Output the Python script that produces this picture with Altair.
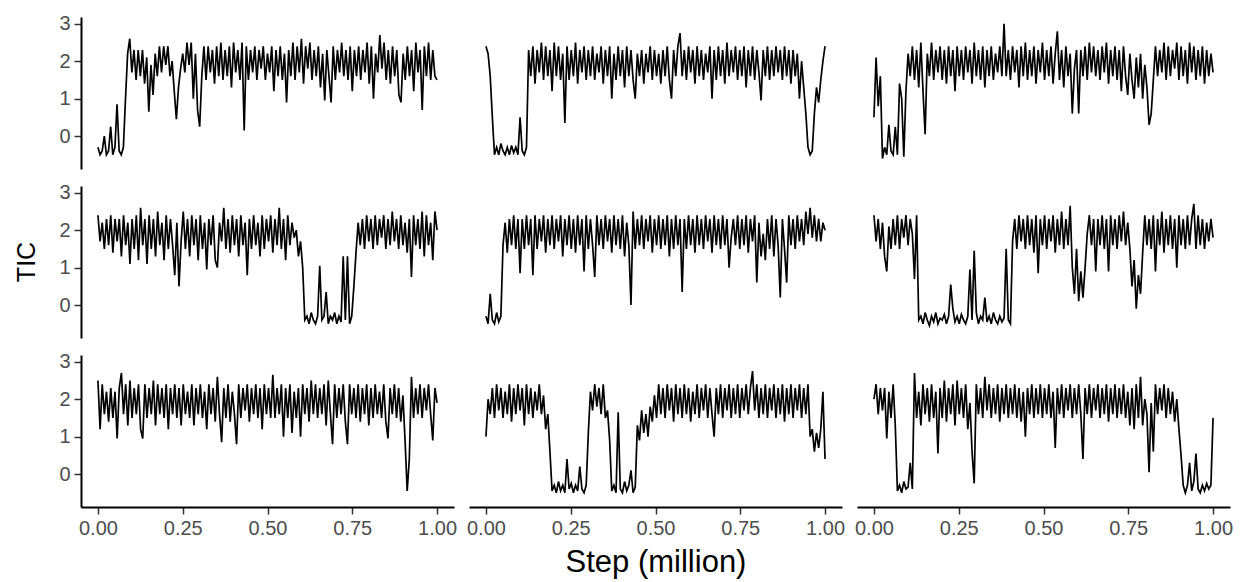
import altair as alt
import numpy as np
import pandas as pd

# TIC values (row, column), evenly spaced steps 0..1 million
p11 = [-0.3,-0.5,-0.4,-0.0,-0.5,-0.4,0.25,-0.5,-0.3,0.85,-0.4,-0.5,-0.3,1.0,2.2,
       2.6,1.7,2.3,1.5,2.3,1.6,2.3,1.4,2.1,0.65,
       1.9,1.1,2.2,1.6,2.4,1.7,2.4,1.9,2.4,1.6,2.0,
       1.2,0.45,1.3,1.8,2.2,
       1.7,2.5,1.9,2.5,1.0,2.2,0.7,0.25,
       1.6,2.4,1.5,2.4,1.7,2.3,1.4,2.4,1.6,2.5,1.5,2.3,1.6,2.4,1.3,2.5,1.7,2.3,1.5,
       2.5,0.15,2.4,
       1.5,2.3,1.7,2.4,1.5,2.3,1.8,2.4,1.5,2.2,1.7,2.4,1.2,2.3,1.6,2.4,1.5,2.2,0.9,2.3,
       1.6,2.5,1.5,2.4,1.7,2.6,1.4,2.4,1.8,2.5,1.5,2.3,1.6,2.4,1.3,2.2,
       0.95,2.3,1.6,0.9,2.4,1.5,2.3,1.7,2.5,1.6,
       2.3,1.5,2.4,1.2,2.3,1.6,2.4,1.5,2.3,1.7,2.5,1.4,2.4,1.0,2.2,1.7,
       2.7,1.8,2.5,1.5,2.3,1.4,2.4,1.6,2.3,
       1.1,0.9,2.2,1.5,2.4,1.6,2.3,1.2,2.5,1.7,2.3,0.7,2.4,1.6,2.5,1.5,2.3,1.6,1.5]

p12 = [2.4,2.2,1.6,0.5,
       -0.5,-0.3,-0.5,-0.2,-0.4,-0.5,-0.3,-0.5,-0.25,-0.45,-0.3,-0.5,0.5,-0.4,-0.5,-0.3,
       2.3,
       1.6,2.4,1.4,2.3,1.7,2.5,1.5,2.4,1.6,2.3,1.2,2.5,1.6,2.4,1.5,2.2,
       0.35,
       2.4,1.5,2.3,1.6,2.5,1.4,2.3,1.7,2.4,1.5,2.3,1.6,2.4,1.5,2.2,1.7,2.4,1.4,2.3,1.6,2.4,
       1.0,
       2.2,1.5,2.4,1.6,2.3,1.3,2.4,1.6,2.3,1.5,
       1.0,
       2.2,1.6,2.3,1.4,2.2,1.7,2.4,1.5,2.3,1.6,2.2,1.4,2.3,1.6,2.4,1.5,
       1.0,2.3,1.6,2.4,2.75,
       1.6,2.3,1.5,2.4,1.7,2.3,1.4,2.4,1.6,2.3,1.5,2.2,1.7,2.4,
       1.0,
       2.3,1.5,2.4,1.6,2.3,1.4,2.5,1.6,2.3,1.7,2.4,1.5,2.3,1.6,2.4,1.3,2.3,1.6,2.4,1.5,2.3,1.7,
       0.95,
       2.3,1.6,2.4,1.5,2.3,1.6,2.4,1.7,2.3,1.5,2.4,1.6,2.3,1.4,2.3,1.6,2.2,1.0,
       2.0,1.3,0.6,-0.3,-0.5,-0.4,0.6,1.3,0.9,1.5,2.0,2.4]

p13 = [0.5,2.1,0.8,1.6,
       -0.6,-0.3,-0.5,0.3,-0.4,-0.5,0.25,
       -0.5,1.4,1.0,-0.55,1.2,2.2,
       1.6,2.4,1.5,2.3,1.3,2.5,1.2,0.05,
       2.2,1.6,2.5,1.5,2.3,1.7,2.4,1.5,2.3,1.4,2.4,1.6,2.3,1.2,2.4,1.6,2.3,1.5,2.4,1.7,
       2.3,1.4,2.5,1.6,2.3,1.5,2.4,1.3,2.3,1.6,2.4,1.5,2.2,1.7,2.4,1.6,
       3.0,
       1.6,2.3,1.5,2.4,1.7,2.3,1.3,2.4,1.6,2.5,1.5,2.3,1.6,2.4,1.4,2.3,1.7,2.5,1.5,2.3,1.6,2.4,1.4,2.2,
       2.8,1.5,2.3,1.3,2.4,1.6,2.2,
       0.6,1.8,2.3,0.6,
       2.3,1.6,2.4,1.5,2.5,1.7,2.4,1.6,2.3,1.5,2.4,1.7,2.5,1.4,2.3,1.6,2.4,1.5,2.3,1.2,2.4,1.6,1.1,2.2,1.5,
       1.0,2.1,1.3,2.2,1.0,1.9,1.3,
       0.3,0.6,1.5,
       2.4,1.6,2.3,1.7,2.5,1.5,2.4,1.6,2.3,1.8,2.5,1.5,2.4,1.6,2.3,1.4,2.5,1.7,2.4,1.5,2.3,1.6,2.4,1.4,2.3,1.6,2.2,1.7]

p21 = [2.4,1.7,2.2,1.5,2.3,1.6,2.4,1.4,2.3,1.7,2.3,1.3,2.4,1.6,2.2,1.1,2.3,1.5,2.4,1.2,
       2.6,1.6,2.3,1.1,2.4,1.5,2.3,1.3,2.5,1.6,2.2,1.2,2.4,1.5,2.3,1.6,
       0.8,2.2,0.5,1.7,
       2.5,1.5,2.3,1.3,2.4,1.6,2.3,1.2,2.4,1.5,2.2,
       0.95,2.3,1.6,2.4,1.2,1.0,2.2,1.7,2.6,
       1.5,2.3,1.4,2.4,1.6,2.3,1.3,2.4,1.6,2.2,
       0.8,
       2.3,1.5,2.4,1.6,2.2,1.3,2.4,1.5,2.3,1.7,2.4,1.4,2.3,1.6,2.6,1.5,2.3,1.2,2.4,1.6,2.2,
       1.8,2.0,1.3,1.7,1.0,-0.4,
       -0.3,-0.5,-0.2,-0.4,-0.5,-0.3,1.05,-0.4,-0.3,0.35,-0.5,-0.3,-0.4,-0.2,-0.5,-0.3,-0.45,
       1.3,-0.4,1.3,-0.5,-0.3,
       0.5,1.4,
       2.2,1.6,2.3,1.5,2.4,1.7,2.3,1.5,2.4,1.6,2.3,1.8,2.4,1.5,2.3,1.6,2.5,1.7,2.3,1.5,
       2.4,1.6,2.2,1.4,2.3,0.75,2.4,1.6,2.3,1.5,2.5,1.3,2.4,1.6,2.2,1.2,2.5,2.0]

p22 = [-0.3,-0.5,0.3,-0.4,-0.5,-0.2,-0.45,-0.3,
       1.6,2.2,1.4,2.3,1.6,2.4,1.5,2.3,
       0.85,2.3,1.5,2.4,1.6,2.3,0.8,
       2.4,1.5,2.3,1.7,2.4,1.4,2.3,1.6,2.4,1.5,2.3,1.7,2.4,1.3,2.3,1.6,2.4,1.5,2.3,1.4,2.4,1.6,2.3,
       0.9,2.4,1.5,2.3,1.6,0.75,
       2.4,1.6,2.3,1.5,2.4,1.7,2.3,1.4,2.4,1.6,2.3,1.5,2.4,1.3,2.2,1.6,
       0.0,
       2.5,1.5,2.3,1.6,2.4,1.5,2.3,1.7,2.4,1.4,2.3,1.6,2.4,1.5,2.3,1.6,2.4,1.3,2.3,1.5,2.4,1.6,2.3,
       0.35,
       2.3,1.5,2.4,1.6,2.3,1.4,2.4,1.6,2.3,1.5,2.4,1.7,2.3,1.4,2.4,1.6,2.3,1.5,2.4,1.6,2.3,1.0,1.8,
       2.3,1.6,2.4,1.5,2.3,1.6,2.4,1.4,2.3,1.7,2.4,
       0.6,2.2,1.3,1.9,1.2,2.3,1.5,2.4,1.3,2.3,1.6,
       0.2,2.3,1.5,0.6,
       2.4,1.6,2.3,1.5,2.4,1.7,2.3,1.6,2.5,1.9,2.6,1.8,2.4,1.7,2.3,1.7,2.2,2.0]

p23 = [2.4,1.7,2.3,1.5,2.2,1.3,0.9,2.1,1.5,2.3,1.6,2.4,1.5,2.3,1.8,2.4,1.6,2.3,1.9,
       0.7,2.4,-0.4,
       -0.3,-0.5,-0.2,-0.4,-0.55,-0.3,-0.45,-0.2,-0.5,-0.35,-0.4,-0.25,-0.5,-0.3,0.55,
       -0.1,-0.45,-0.3,-0.5,-0.25,-0.4,-0.5,-0.3,0.95,-0.4,1.45,-0.2,-0.5,-0.3,-0.4,0.2,
       -0.45,-0.3,-0.5,-0.2,-0.4,-0.5,-0.3,-0.45,-0.35,1.5,-0.4,-0.5,
       1.7,2.3,1.5,2.4,1.7,2.3,1.5,2.4,1.6,2.3,1.4,2.4,
       0.85,
       2.3,1.6,2.4,1.5,2.3,1.7,2.4,1.4,2.3,1.6,2.5,1.5,2.3,1.6,2.65,
       1.0,0.3,1.5,0.1,0.9,0.2,1.0,1.9,
       2.4,1.6,2.3,0.9,2.3,1.6,2.4,1.5,2.3,0.9,2.4,1.6,2.3,1.5,2.4,1.7,2.5,1.6,2.2,
       1.5,0.5,1.2,-0.1,0.8,0.3,1.4,2.4,
       1.6,2.3,1.5,2.4,0.9,2.3,1.6,2.5,1.4,2.3,1.6,2.4,1.5,2.3,1.0,2.4,1.6,2.3,1.5,2.4,
       1.6,2.3,2.7,1.5,2.4,1.6,2.3,1.5,2.2,1.7,2.3,1.8]

p31 = [2.5,1.2,2.4,1.6,2.2,1.4,2.3,1.5,2.2,0.95,2.3,2.7,1.6,2.4,1.3,2.5,1.5,2.3,1.6,2.4,1.2,
       0.95,
       2.4,1.5,2.3,1.6,2.5,1.3,2.4,1.6,2.3,1.5,2.4,1.2,2.3,1.6,2.4,1.5,2.3,1.3,2.4,1.6,
       2.2,1.5,2.4,1.3,2.3,1.6,2.4,1.5,2.2,1.2,2.4,1.6,2.3,1.4,2.6,
       1.6,0.85,2.3,1.5,2.4,1.4,2.2,1.6,0.8,
       2.4,1.5,2.3,1.7,2.4,1.4,2.3,1.6,2.4,1.5,2.3,1.2,2.4,1.6,2.3,1.5,
       2.65,
       1.5,2.3,1.6,2.4,1.0,2.3,1.5,2.4,1.1,2.2,1.5,2.3,1.0,2.4,1.6,2.3,1.4,2.5,1.6,2.4,
       1.5,2.3,1.6,2.4,1.3,2.5,1.6,
       0.8,2.4,1.5,2.3,1.6,2.4,1.4,0.8,
       2.4,1.6,2.3,1.5,2.4,1.4,2.3,1.6,2.4,1.3,2.3,1.5,2.4,1.6,2.2,1.5,2.4,1.4,0.95,2.3,
       1.6,2.4,1.5,2.3,1.4,2.1,0.9,-0.45,0.4,2.6,
       1.5,2.3,1.6,2.4,1.5,2.3,1.7,2.4,1.6,0.9,2.3,1.9]

p32 = [1.0,2.0,1.6,2.3,1.5,2.4,1.7,2.3,1.5,2.2,1.6,2.4,1.4,2.3,1.6,2.4,1.7,2.3,1.3,2.4,
       1.6,2.3,1.5,2.2,1.7,2.4,
       1.6,2.1,1.2,1.6,0.6,-0.45,
       -0.3,-0.5,-0.2,-0.45,-0.3,-0.5,0.4,-0.4,-0.25,-0.5,-0.3,-0.45,0.2,-0.4,-0.5,-0.3,
       1.1,2.2,1.7,2.4,1.8,2.3,1.6,2.4,1.5,1.7,0.9,-0.45,-0.3,-0.5,1.65,
       -0.4,-0.5,-0.2,-0.45,-0.3,0.1,-0.5,-0.35,
       1.3,0.9,1.7,1.1,1.6,1.0,1.8,1.4,2.1,
       1.5,2.4,1.6,2.3,1.5,2.4,1.7,2.3,1.4,2.4,1.6,2.3,1.5,2.4,1.6,2.3,1.4,2.2,1.6,2.4,
       1.5,2.3,1.7,2.4,1.5,2.3,1.6,
       1.0,
       2.3,1.6,2.4,1.5,2.3,1.7,2.4,1.5,2.3,1.6,2.4,1.5,2.3,1.7,2.4,1.6,2.3,
       2.75,
       1.7,2.4,1.5,2.3,1.6,2.4,1.5,2.3,1.7,2.4,1.5,2.3,1.6,2.4,1.4,2.3,1.6,2.4,1.5,2.3,
       1.7,2.4,1.5,2.3,1.6,
       2.4,1.0,1.2,0.6,1.1,0.7,1.2,2.2,0.4]

p33 = [2.0,2.4,1.6,2.3,1.7,2.3,0.95,2.2,1.5,2.4,
       1.3,-0.45,-0.3,-0.5,-0.2,-0.4,-0.35,0.3,-0.4,
       2.7,1.5,2.2,1.3,2.4,1.6,2.3,1.4,2.4,1.5,2.2,
       0.55,
       2.3,1.5,2.5,1.4,2.3,1.6,2.4,1.3,2.5,1.6,2.3,1.5,2.4,1.2,1.9,
       0.6,-0.25,
       2.4,1.6,2.3,1.5,2.6,1.7,2.4,1.5,2.3,1.6,2.4,1.4,2.3,1.6,2.4,1.5,2.3,1.6,2.4,1.5,
       2.3,1.4,2.2,1.0,2.3,
       1.6,2.4,1.5,2.3,1.6,2.4,1.5,2.3,1.6,2.4,1.5,2.2,0.7,
       2.3,1.6,2.4,1.5,2.3,1.7,2.4,1.5,2.3,1.6,2.4,1.6,0.4,
       2.3,1.6,2.4,1.5,2.3,1.7,2.4,1.5,2.3,1.6,2.4,1.4,2.3,1.6,2.4,1.5,2.3,1.6,2.4,1.5,
       2.2,1.3,2.3,1.2,2.4,1.5,2.6,1.3,2.0,1.6,
       0.05,1.9,0.6,
       2.4,1.6,2.3,1.7,2.4,1.5,2.3,1.6,2.2,1.4,2.0,
       1.2,0.5,-0.3,
       -0.5,-0.3,0.3,-0.45,-0.2,0.55,-0.4,-0.5,-0.3,-0.45,-0.25,-0.4,-0.3,
       1.5]

panels = [[p11, p12, p13], [p21, p22, p23], [p31, p32, p33]]

x_ticks = [0, 0.25, 0.5, 0.75, 1.0]
y_ticks = [0, 1, 2, 3]

rows = []
for r, row in enumerate(panels):
    for c, vals in enumerate(row):
        steps = np.linspace(0, 1, len(vals))
        for s, v in zip(steps, vals):
            rows.append({"step": float(s), "tic": v, "r": r, "c": c})
df = pd.DataFrame(rows)

FONT = "Liberation Sans"

base = alt.Chart(df).mark_line(color="black", strokeWidth=1.7).encode(
    x=alt.X("step:Q", title=None,
            scale=alt.Scale(domain=[-0.05, 1.05], nice=False, zero=False),
            axis=alt.Axis(values=x_ticks, format=".2f")),
    y=alt.Y("tic:Q", title=None,
            scale=alt.Scale(domain=[-0.88, 3.18], nice=False, zero=False),
            axis=alt.Axis(values=y_ticks)),
).properties(width=373, height=152)

chart = base.facet(
    row=alt.Row("r:O", header=alt.Header(
        labels=False, title="TIC", titleOrient="left", titleFont=FONT,
        titleFontSize=25, titleFontWeight="normal", titleColor="black",
        titlePadding=8, labelPadding=0)),
    column=alt.Column("c:O", header=alt.Header(
        labels=False, title="Step (million)", titleOrient="bottom", titleFont=FONT,
        titleFontSize=31, titleFontWeight="normal", titleColor="black",
        titlePadding=0, labelPadding=0)),
    spacing={"row": 17, "column": 15},
).properties(
    padding={"left": 15, "top": 13, "right": 5, "bottom": 5},
    background="white",
).configure_view(stroke=None).configure_axis(
    grid=False,
    domainColor="black",
    domainWidth=2,
    tickColor="#333333",
    tickWidth=1.5,
    tickSize=7,
    labelColor="#4D4D4D",
    labelFontSize=20,
    labelFont=FONT,
    labelPadding=4,
)

chart.save("out.html", embed_options={"renderer": "svg", "actions": False})
